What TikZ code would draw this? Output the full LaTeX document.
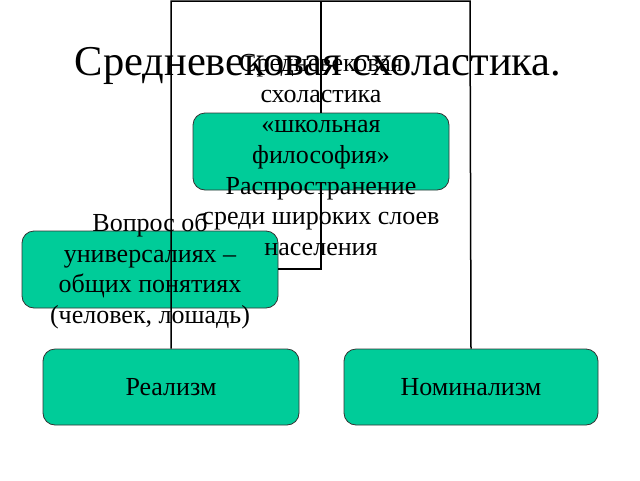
\documentclass[tikz,border=0pt]{standalone}
\usepackage{fontspec}
\setmainfont{Liberation Serif}
\begin{document}
\begin{tikzpicture}[x=1pt,y=-1pt,
  gbox/.style={draw=black!80, line width=0.8pt, fill=boxgreen, rounded corners=12pt, inner sep=0pt},
  conn/.style={draw=black, line width=1.5pt},
  txt/.style={font=\fontsize{26}{30.6}\selectfont, align=center, inner sep=0pt}]
\definecolor{boxgreen}{RGB}{0,204,153}
\useasboundingbox (0,0) rectangle (640,480);
% connector corners
\coordinate (tl) at (172,1);
\coordinate (tm) at (321,1);
\coordinate (tr) at (470,1);
\coordinate (mb) at (321,269);
% title
\node[font=\fontsize{42.5}{50}\selectfont, inner sep=0pt] (title) at (318,66) {Средневековая схоластика.};
% boxes
\node[gbox, minimum width=256pt, minimum height=77pt] (school) at (321,151.5) {};
\node[gbox, minimum width=256pt, minimum height=77pt] (vopros) at (150,269.5) {};
\node[gbox, minimum width=256pt, minimum height=76pt] (real) at (171,387) {};
\node[gbox, minimum width=254pt, minimum height=76pt] (nom) at (471,387) {};
% connectors
\draw[conn] (real.north) -- (real.north |- tl) -- (tr) -- (nom.north);
\draw[conn] (tm) -- (school.north);
\draw[conn] (school.south) -- (mb) -- (vopros.east |- mb);
% texts
\node[txt] (schooltxt) at (321,155) {Средневековая\\схоластика\\«школьная\\философия»\\Распространение\\среди широких слоев\\населения};
\node[txt] (voprostxt) at (150,271) {Вопрос об\\универсалиях –\\общих понятиях\\(человек, лошадь)};
\node[txt] (realtxt) at (real.center) {Реализм};
\node[txt] (nomtxt) at (nom.center) {Номинализм};
\end{tikzpicture}
\end{document}
